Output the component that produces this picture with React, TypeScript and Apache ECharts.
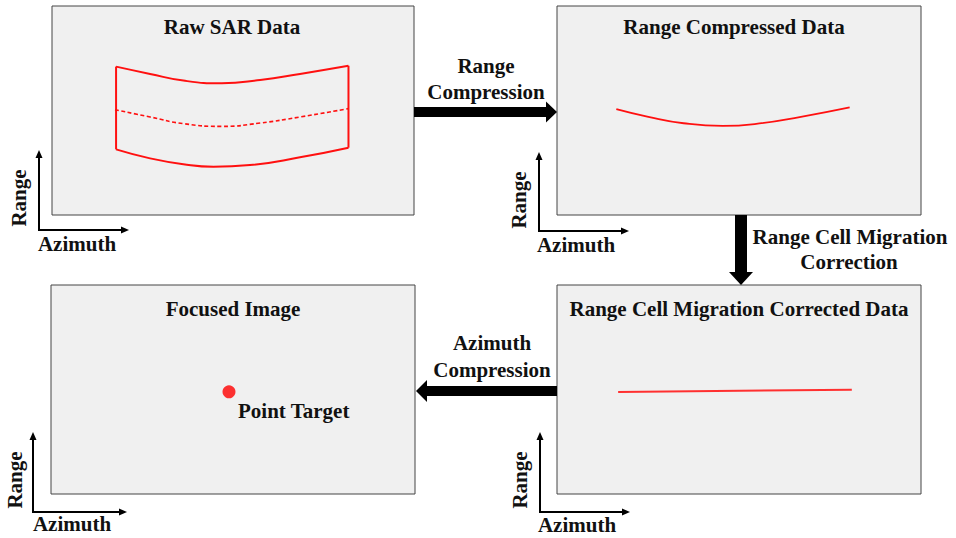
import React, { useEffect, useRef } from "react";
import * as echarts from "echarts";

// ---- Data (panel-normalised azimuth / range units, 0..100) ----
const panelTitles = ["Raw SAR Data", "Range Compressed Data", "Focused Image", "Range Cell Migration Corrected Data"];
const stepLabels = [["Range", "Compression"], ["Range Cell Migration", "Correction"], ["Azimuth", "Compression"]];
const axisNames = ["Range", "Azimuth"];
const targetLabel = "Point Target";

// Raw SAR data: top echo edge, dashed centre, bottom edge
const rawTopAzimuth = [17.7, 27.1, 36.3, 46.9, 57.5, 68.5, 81.9];
const rawTopRange = [71.0, 67.5, 64.3, 63.0, 64.6, 67.5, 71.4];
const rawMidAzimuth = [17.4, 27.1, 36.3, 46.9, 57.5, 68.5, 81.9];
const rawMidRange = [50.4, 46.9, 43.7, 42.4, 44.0, 46.9, 50.9];
const rawBottomAzimuth = [17.7, 27.1, 36.3, 44.6, 54.7, 68.5, 81.9];
const rawBottomRange = [31.4, 27.1, 24.3, 23.1, 23.9, 27.6, 32.2];

// Range compressed: hyperbolic trajectory
const rcAzimuth = [16.3, 25.1, 34.8, 45.5, 54.3, 67.0, 80.4];
const rcRange = [50.7, 47.0, 43.9, 42.6, 43.5, 47.0, 51.5];

// RCMC corrected: straight line
const rcmcAzimuth = [16.8, 81.0];
const rcmcRange = [48.8, 49.9];

// Focused point target
const targetAzimuth = [48.9];
const targetRange = [48.9];

// ---- Layout ----
const FONT = '"Liberation Serif", "Times New Roman", serif';
const RED = "#ff1010";
const panels = [
  { left: 52, top: 6, width: 362, height: 209 },
  { left: 557, top: 6, width: 364, height: 209 },
  { left: 51, top: 285, width: 364, height: 209 },
  { left: 557, top: 285, width: 364, height: 209 },
];

const zip = (xs: number[], ys: number[]) => xs.map((x, i) => [x, ys[i]]);

function txt(text: string, x: number, y: number, align = "center", rotation = 0) {
  return {
    type: "text",
    x,
    y,
    rotation,
    z: 10,
    style: {
      text,
      fill: "#111",
      fontSize: 21,
      fontWeight: "bold",
      fontFamily: FONT,
      align,
      verticalAlign: "middle",
    },
  };
}

function miniAxes(x: number, corner: number, tipY: number, tipX: number, rx: number, ry: number, ax: number, ay: number) {
  return [
    {
      type: "polyline",
      z: 10,
      shape: { points: [[x, tipY + 6], [x, corner], [tipX - 6, corner]] },
      style: { stroke: "#000", lineWidth: 2, fill: null },
    },
    {
      type: "polygon",
      z: 10,
      shape: { points: [[x - 3.5, tipY + 8], [x, tipY], [x + 3.5, tipY + 8]] },
      style: { fill: "#000" },
    },
    {
      type: "polygon",
      z: 10,
      shape: { points: [[tipX - 8, corner - 3.5], [tipX, corner], [tipX - 8, corner + 3.5]] },
      style: { fill: "#000" },
    },
    txt(axisNames[0], rx, ry, "center", Math.PI / 2),
    txt(axisNames[1], ax, ay),
  ];
}

export default function App() {
  const ref = useRef<HTMLDivElement>(null);
  useEffect(() => {
    const chart = echarts.init(ref.current!, null, { renderer: "svg" });
    const lineBase = (data: number[][], idx: number, extra: any = {}) => ({
      type: "line",
      xAxisIndex: idx,
      yAxisIndex: idx,
      data,
      symbol: "none",
      smooth: data.length > 2 ? 0.5 : false,
      silent: true,
      lineStyle: { color: RED, width: 2, ...extra },
    });

    const graphic: any[] = [
      txt(panelTitles[0], 232, 27),
      txt(panelTitles[1], 734, 27),
      txt(panelTitles[2], 233, 309),
      txt(panelTitles[3], 739, 309),
      // arrow 1 (right)
      { type: "rect", z: 10, shape: { x: 414, y: 107, width: 134, height: 10 }, style: { fill: "#000" } },
      { type: "polygon", z: 10, shape: { points: [[546, 101.5], [557, 112], [546, 122.5]] }, style: { fill: "#000" } },
      txt(stepLabels[0][0], 486, 66),
      txt(stepLabels[0][1], 486, 92),
      // arrow 2 (down)
      { type: "rect", z: 10, shape: { x: 735, y: 215, width: 12, height: 58 }, style: { fill: "#000" } },
      { type: "polygon", z: 10, shape: { points: [[729, 272], [741, 285], [753, 272]] }, style: { fill: "#000" } },
      txt(stepLabels[1][0], 850, 237),
      txt(stepLabels[1][1], 849, 262),
      // arrow 3 (left)
      { type: "rect", z: 10, shape: { x: 426, y: 386, width: 131, height: 10 }, style: { fill: "#000" } },
      { type: "polygon", z: 10, shape: { points: [[427, 380], [416, 391], [427, 402]] }, style: { fill: "#000" } },
      txt(stepLabels[2][0], 492, 343),
      txt(stepLabels[2][1], 492, 370),
      txt(targetLabel, 238, 411, "left"),
      ...miniAxes(39, 230, 150, 129, 19, 198, 77, 244),
      ...miniAxes(539, 231, 152, 629, 519, 200, 576, 245),
      ...miniAxes(33, 512, 432, 127, 15, 480, 72, 524),
      ...miniAxes(540, 512, 432, 630, 520, 480, 577, 525),
    ];

    chart.setOption({
      animation: false,
      backgroundColor: "#ffffff",
      grid: panels.map((p) => ({
        ...p,
        show: true,
        backgroundColor: "#f0f0f0",
        borderColor: "#444",
        borderWidth: 1,
        containLabel: false,
      })),
      xAxis: panels.map((_, i) => ({ type: "value", gridIndex: i, min: 0, max: 100, show: false })),
      yAxis: panels.map((_, i) => ({ type: "value", gridIndex: i, min: 0, max: 100, show: false })),
      series: [
        lineBase(zip(rawTopAzimuth, rawTopRange), 0),
        lineBase(zip(rawBottomAzimuth, rawBottomRange), 0),
        lineBase([[rawTopAzimuth[0], rawTopRange[0]], [rawBottomAzimuth[0], rawBottomRange[0]]], 0),
        lineBase(
          [
            [rawTopAzimuth[rawTopAzimuth.length - 1], rawTopRange[rawTopRange.length - 1]],
            [rawBottomAzimuth[rawBottomAzimuth.length - 1], rawBottomRange[rawBottomRange.length - 1]],
          ],
          0
        ),
        lineBase(zip(rawMidAzimuth, rawMidRange), 0, { type: [4, 2.5], width: 1.6 }),
        lineBase(zip(rcAzimuth, rcRange), 1, { width: 1.8 }),
        lineBase(zip(rcmcAzimuth, rcmcRange), 3, { width: 2, color: "#ff3030" }),
        {
          type: "scatter",
          xAxisIndex: 2,
          yAxisIndex: 2,
          data: zip(targetAzimuth, targetRange),
          symbolSize: 13,
          silent: true,
          itemStyle: { color: "#ff0000" },
        },
      ],
      graphic,
    });
    return () => chart.dispose();
  }, []);
  return (
    <div
      ref={ref}
      style={{ position: "absolute", left: 0, top: 0, width: 956, height: 538, background: "#fff" }}
    />
  );
}
